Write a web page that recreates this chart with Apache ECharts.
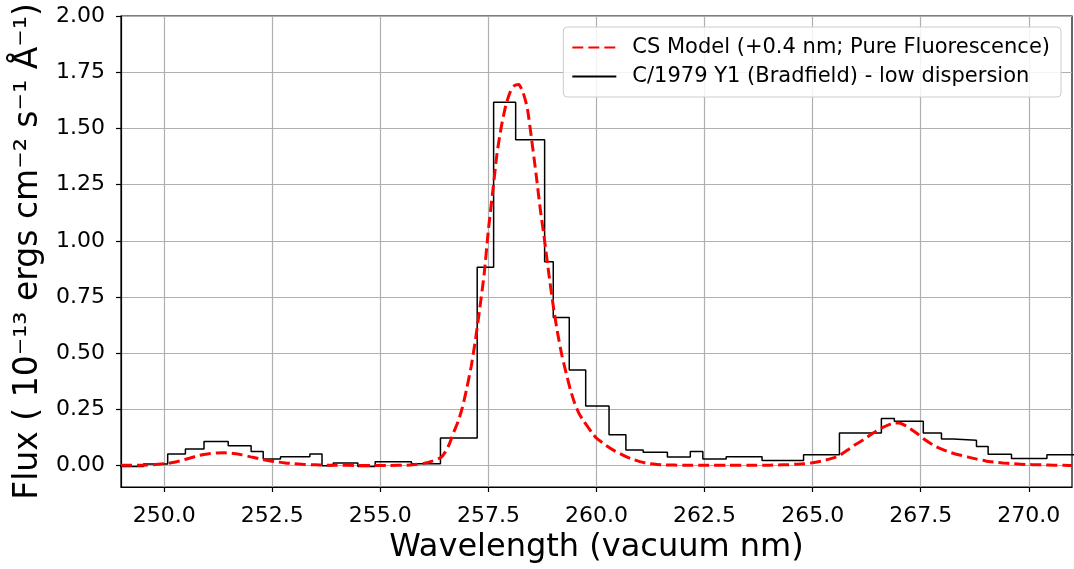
<!DOCTYPE html>
<html>
<head>
<meta charset="utf-8">
<script src="https://cdn.jsdelivr.net/npm/echarts@6/dist/echarts.min.js"></script>
<style>
html,body{margin:0;padding:0;background:#fff;}
#chart{width:1074px;height:569px;}
</style>
</head>
<body>
<div id="chart"></div>
<script>
// Observed spectrum: bin edges (nm) and flux per bin (1e-13 ergs cm^-2 s^-1 A^-1)
const obsEdges = [248.8, 249.52, 250.08, 250.49, 250.92, 251.48, 252.01, 252.29, 252.69, 253.37,
  253.65, 253.91, 254.48, 254.88, 255.72, 256.39, 257.24, 257.62, 258.13, 258.80,
  259.00, 259.37, 259.75, 260.29, 260.68, 261.08, 261.64, 262.17, 262.46, 263.00,
  263.83, 264.79, 265.62, 266.59, 266.89, 267.56, 267.98, 268.25, 268.79, 269.06,
  269.60, 270.42, 271.2];
const obsFlux = [-0.004, 0.007, 0.052, 0.074, 0.107, 0.088, 0.063, 0.030, 0.039, 0.052,
  -0.001, 0.012, -0.004, 0.017, 0.008, 0.123, 0.883, 1.616, 1.450, 0.907,
  0.659, 0.425, 0.265, 0.137, 0.070, 0.060, 0.038, 0.063, 0.030, 0.039,
  0.023, 0.048, 0.145, 0.210, 0.197, 0.145, 0.119, 0.113, 0.085, 0.051,
  0.032, 0.048];

// CS model curve (+0.4 nm; pure fluorescence)
const modelX = [249.0, 249.2, 249.4, 249.6, 249.8, 250.0, 250.2, 250.4, 250.6, 250.8,
  251.0, 251.2, 251.4, 251.6, 251.8, 252.0, 252.2, 252.4, 252.6, 252.8,
  253.0, 253.2, 253.4, 253.6, 253.8, 254.0, 254.4, 254.8, 255.2, 255.6,
  255.8, 256.0, 256.2, 256.4, 256.5, 256.6, 256.7, 256.8, 256.9, 257.0,
  257.1, 257.2, 257.3, 257.4, 257.5, 257.6, 257.7, 257.8, 257.9, 258.0,
  258.1, 258.2, 258.3, 258.4, 258.5, 258.6, 258.7, 258.8, 258.9, 259.0,
  259.1, 259.2, 259.3, 259.4, 259.5, 259.6, 259.7, 259.8, 259.9, 260.0,
  260.2, 260.4, 260.6, 260.8, 261.0, 261.2, 261.4, 261.6, 262.0, 262.5,
  263.0, 263.5, 264.0, 264.2, 264.4, 264.6, 264.8, 265.0, 265.2, 265.4,
  265.6, 265.8, 266.0, 266.2, 266.4, 266.6, 266.8, 266.9, 267.0, 267.2,
  267.4, 267.6, 267.8, 268.0, 268.2, 268.4, 268.6, 268.8, 269.0, 269.2,
  269.4, 269.6, 269.8, 270.0, 270.2, 270.4, 270.6, 270.8, 271.0];
const modelY = [0.002, 0.002, 0.002, 0.003, 0.005, 0.008, 0.014, 0.023, 0.034, 0.045,
  0.052, 0.056, 0.057, 0.054, 0.048, 0.039, 0.031, 0.023, 0.017, 0.012,
  0.009, 0.006, 0.004, 0.003, 0.002, 0.002, 0.001, 0.001, 0.001, 0.002,
  0.005, 0.010, 0.020, 0.036, 0.060, 0.098, 0.150, 0.197, 0.260, 0.345,
  0.440, 0.560, 0.700, 0.850, 1.050, 1.220, 1.390, 1.510, 1.600, 1.660,
  1.690, 1.695, 1.660, 1.590, 1.450, 1.300, 1.140, 1.000, 0.850, 0.710,
  0.590, 0.490, 0.410, 0.335, 0.275, 0.230, 0.200, 0.172, 0.145, 0.122,
  0.093, 0.068, 0.048, 0.031, 0.018, 0.009, 0.005, 0.003, 0.002, 0.002,
  0.002, 0.002, 0.002, 0.003, 0.004, 0.006, 0.008, 0.013, 0.020, 0.030,
  0.043, 0.068, 0.095, 0.118, 0.145, 0.168, 0.185, 0.190, 0.190, 0.172,
  0.145, 0.115, 0.090, 0.072, 0.058, 0.047, 0.038, 0.029, 0.021, 0.016,
  0.012, 0.009, 0.006, 0.005, 0.004, 0.003, 0.002, 0.002, 0.001];

const xTicks = [250.0, 252.5, 255.0, 257.5, 260.0, 262.5, 265.0, 267.5, 270.0];
const yTicks = [0.00, 0.25, 0.50, 0.75, 1.00, 1.25, 1.50, 1.75, 2.00];

const modelName = 'CS Model (+0.4 nm; Pure Fluorescence)';
const obsName = 'C/1979 Y1 (Bradfield) - low dispersion';

const obsData = obsEdges.map((e, i) => [e, obsFlux[Math.min(i, obsFlux.length - 1)]]);
const modelData = modelX.map((x, i) => [x, modelY[i]]);

const FONT = 'DejaVu Sans';
const chart = echarts.init(document.getElementById('chart'), null, {renderer: 'canvas'});
chart.setOption({
  animation: false,
  backgroundColor: '#ffffff',
  textStyle: {fontFamily: FONT},
  grid: {left: 121, top: 16, width: 951, height: 473, show: true,
         borderColor: '#000', borderWidth: 1.2, backgroundColor: 'transparent', containLabel: false},
  legend: {
    data: [modelName, obsName],
    orient: 'vertical',
    right: 13, top: 27,
    padding: [9, 11, 9, 8],
    itemGap: 6,
    itemWidth: 44, itemHeight: 14,
    backgroundColor: 'rgba(255,255,255,0.85)',
    borderColor: '#cccccc', borderWidth: 1, borderRadius: 4,
    itemStyle: {opacity: 0},
    textStyle: {fontFamily: FONT, fontSize: 21, color: '#000', padding: [0, 0, 0, 11], lineHeight: 23}
  },
  xAxis: {
    type: 'value', min: 249, max: 271,
    name: 'Wavelength (vacuum nm)', nameLocation: 'middle', nameGap: 45,
    nameTextStyle: {fontFamily: FONT, fontSize: 32, color: '#000'},
    axisLine: {show: true, onZero: false, lineStyle: {color: '#000', width: 1.2}},
    axisTick: {show: true, inside: false, length: 5, customValues: xTicks, lineStyle: {color: '#000', width: 1.2}},
    axisLabel: {show: true, customValues: xTicks, margin: 18, fontFamily: FONT, fontSize: 22, color: '#000',
                formatter: v => v.toFixed(1)},
    splitLine: {show: true, lineStyle: {color: '#b0b0b0', width: 1.2}}
  },
  yAxis: {
    type: 'value', min: -0.095, max: 2.0,
    name: 'Flux ( 10\u207B\u00B9\u00B3 ergs cm\u207B\u00B2 s\u207B\u00B9 \u00C5\u207B\u00B9)',
    nameLocation: 'middle', nameGap: 72, nameRotate: 90,
    nameTextStyle: {fontFamily: FONT, fontSize: 33, color: '#000'},
    axisLine: {show: true, onZero: false, lineStyle: {color: '#000', width: 1.2}},
    axisTick: {show: true, inside: false, length: 5, customValues: yTicks, lineStyle: {color: '#000', width: 1.2}},
    axisLabel: {show: true, customValues: yTicks, margin: 16, fontFamily: FONT, fontSize: 22, color: '#000',
                formatter: v => v.toFixed(2)},
    splitLine: {show: true, lineStyle: {color: '#b0b0b0', width: 1.2}}
  },
  series: [
    {
      name: obsName, type: 'line', step: 'end', data: obsData,
      symbol: 'none', clip: true,
      lineStyle: {color: '#000', width: 1.5},
      itemStyle: {color: '#000'}, z: 3
    },
    {
      name: modelName, type: 'line', data: modelData, smooth: 0.2,
      symbol: 'none', clip: true,
      lineStyle: {color: '#ff0000', width: 3, type: [11, 5]},
      itemStyle: {color: '#ff0000'}, z: 4
    }
  ]
});
</script>
</body>
</html>
